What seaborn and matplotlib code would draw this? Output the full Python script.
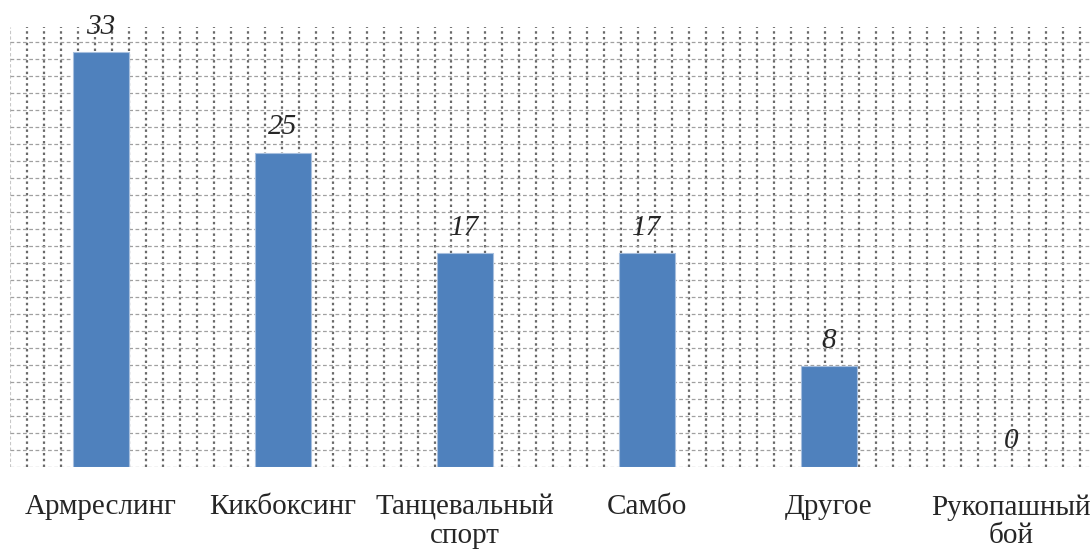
import numpy as np
import pandas as pd
import matplotlib
matplotlib.use("Agg")
import matplotlib.pyplot as plt
import seaborn as sns

# Data
sports = ["Армреслинг", "Кикбоксинг", "Танцевальный\nспорт", "Самбо", "Другое", "Рукопашный\nбой"]
counts = [33, 25, 17, 17, 8, 0]

df = pd.DataFrame({"sport": sports, "count": counts})

sns.set_style("white")
plt.rcParams['font.family'] = ['Liberation Serif', 'DejaVu Serif']

fig = plt.figure(figsize=(10.91, 5.52), dpi=100)
# plot area runs a little past the right edge of the image, like the original
ax = fig.add_axes([10 / 1091, (552 - 466.7) / 552, 1092 / 1091, (466.7 - 27) / 552])

sns.barplot(data=df, x="sport", y="count", color="#4F81BD", saturation=1,
            width=0.31, edgecolor="#A7BFDE", linewidth=0.8, ax=ax, zorder=3)

ax.set_xlim(-0.5, 5.5)
ax.set_ylim(0, 35)

# graph-paper background grid (17 px cells)
px_per_unit_y = (466.7 - 27) / 35
step_y = 17.0 / px_per_unit_y
for yv in np.arange(26) * step_y:
    ax.axhline(yv, color="#A0A0A0", lw=0.9, ls=(0, (3, 2)), zorder=1)
step_x = 16.98 / 182
for xv in -0.5 + np.arange(1, 65) * step_x:
    ax.axvline(xv, color="#6A6A6A", lw=1.6, ls=(0, (1.1, 1.5)), zorder=0)
ax.axvline(-0.5, color="#C8C8C8", lw=0.8, ls=(0, (3, 2)), zorder=0)

for i, v in enumerate(counts):
    ax.annotate(str(v), (i, v), xytext=(0, 9), textcoords="offset points",
                ha="center", va="bottom", fontsize=21, style="italic", zorder=4)

for s in ax.spines.values():
    s.set_visible(False)
ax.set_yticks([])
ax.set_xlabel("")
ax.set_ylabel("")
ax.tick_params(axis="x", length=0, pad=20, labelsize=21)
for lbl in ax.get_xticklabels():
    lbl.set_linespacing(1.12)

fig.savefig("out.png", dpi=100)
